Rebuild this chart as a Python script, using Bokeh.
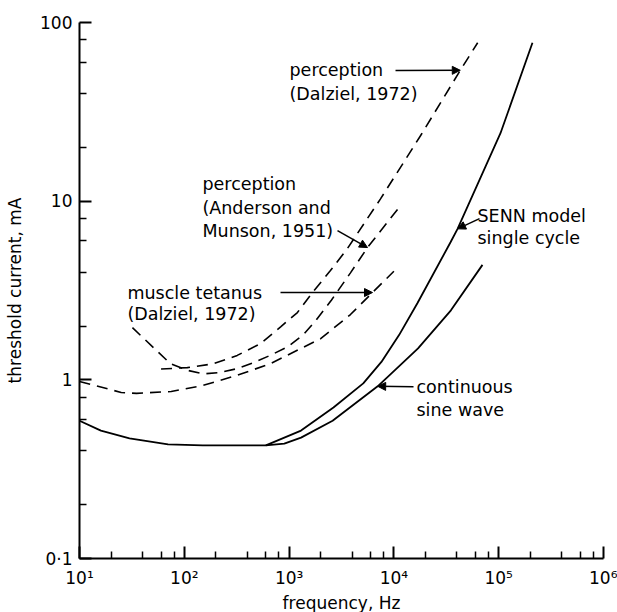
from bokeh.plotting import figure
from bokeh.models import FixedTicker, Arrow, NormalHead, Label
from bokeh.embed import file_html
from bokeh.resources import INLINE

# ---- data (frequency in Hz, current in mA) ----
sine_f = [10, 16, 30, 70, 150, 300, 600, 900, 1300, 2600, 7000, 17000, 35000, 70000]
sine_i = [0.59, 0.52, 0.47, 0.435, 0.43, 0.43, 0.43, 0.44, 0.475, 0.59, 0.92, 1.5, 2.45, 4.4]

senn_f = [600, 1300, 2650, 5100, 7600, 11200, 16800, 34700, 40500, 104000, 210000]
senn_i = [0.43, 0.52, 0.70, 0.955, 1.26, 1.78, 2.69, 5.89, 7.0, 24, 77]

tetanus_f = [10, 25, 35, 75, 150, 320, 660, 2000, 3850, 6250, 10000]
tetanus_i = [0.98, 0.85, 0.84, 0.86, 0.93, 1.06, 1.23, 1.70, 2.32, 3.08, 4.05]

dalziel_f = [60, 107, 190, 320, 530, 830, 1200, 1670, 2480, 3600, 7450, 18000, 43000, 63000]
dalziel_i = [1.15, 1.17, 1.23, 1.37, 1.59, 1.98, 2.38, 3.08, 4.09, 5.43, 10.3, 23.3, 54, 77]

anderson_f = [32, 51, 74, 107, 152, 220, 320, 460, 660, 970, 1370, 1790, 2540, 3850, 5600, 11000]
anderson_i = [1.96, 1.51, 1.23, 1.13, 1.08, 1.10, 1.155, 1.25, 1.37, 1.53, 1.79, 2.14, 2.8, 3.97, 5.5, 9.1]

x_ticks = [10, 100, 1000, 10000, 100000, 1000000]
x_tick_labels = ["10\u00b9", "10\u00b2", "10\u00b3", "10\u2074", "10\u2075", "10\u2076"]
y_ticks = [0.1, 1, 10, 100]
y_tick_labels = ["0\u00b71", "1", "10", "100"]
minor_mantissas = [2, 4, 6, 8]

FONT = "DejaVu Sans"

p = figure(x_axis_type="log", y_axis_type="log",
           x_range=(10, 1e6), y_range=(0.1, 100),
           frame_width=524, frame_height=536,
           min_border_left=79, min_border_right=14,
           min_border_top=22, min_border_bottom=54,
           output_backend="svg", toolbar_location=None,
           background_fill_color="white", border_fill_color="white")
p.outline_line_color = None
p.xgrid.visible = False
p.ygrid.visible = False

p.xaxis.ticker = FixedTicker(ticks=x_ticks,
                             minor_ticks=[m * t for t in x_ticks[:-1] for m in minor_mantissas])
p.yaxis.ticker = FixedTicker(ticks=y_ticks,
                             minor_ticks=[m * t for t in y_ticks[:-1] for m in minor_mantissas])
p.xaxis.major_label_overrides = dict(zip(x_ticks, x_tick_labels))
p.yaxis.major_label_overrides = dict(zip(y_ticks, y_tick_labels))

for ax in (p.xaxis, p.yaxis):
    ax.axis_line_width = 2
    ax.axis_line_color = "black"
    ax.major_tick_line_width = 2
    ax.minor_tick_line_width = 1.5
    ax.major_tick_line_color = "black"
    ax.minor_tick_line_color = "black"
    ax.major_tick_in = 12
    ax.major_tick_out = 0
    ax.minor_tick_in = 7
    ax.minor_tick_out = 0
    ax.major_label_text_font = FONT
    ax.major_label_text_font_size = "17px"
    ax.major_label_text_color = "black"
    ax.axis_label_text_font = FONT
    ax.axis_label_text_font_size = "17px"
    ax.axis_label_text_font_style = "normal"
    ax.axis_label_text_color = "black"

p.xaxis.axis_label = "frequency, Hz"
p.yaxis.axis_label = "threshold current, mA"
p.xaxis.major_label_standoff = 9
p.xaxis.axis_label_standoff = 2
p.yaxis.major_label_standoff = 7
p.yaxis.axis_label_standoff = 12

# solid curves
p.line(sine_f, sine_i, line_color="black", line_width=1.8)
p.line(senn_f, senn_i, line_color="black", line_width=1.8)
# dashed curves
for fx, iy in ((tetanus_f, tetanus_i), (dalziel_f, dalziel_i), (anderson_f, anderson_i)):
    p.line(fx, iy, line_color="black", line_width=1.6, line_dash="11 7")

# annotation texts
labels = [
    (1009, 53.9, "perception"),
    (1009, 40.0, "(Dalziel, 1972)"),
    (149, 12.4, "perception"),
    (149, 9.21, "(Anderson and"),
    (149, 6.84, "Munson, 1951)"),
    (28.7, 3.08, "muscle tetanus"),
    (28.7, 2.35, "(Dalziel, 1972)"),
    (62770, 8.31, "SENN model"),
    (62770, 6.26, "single cycle"),
    (16430, 0.916, "continuous"),
    (16430, 0.681, "sine wave"),
]
for lx, ly, t in labels:
    p.add_layout(Label(x=lx, y=ly, text=t, text_font=FONT, text_font_size="17.5px",
                       text_align="left", text_baseline="middle", text_color="black"))

arrows = [
    (10360, 53.9, 43000, 54),
    (2895, 6.84, 5600, 5.5),
    (828, 3.08, 6250, 3.08),
    (65570, 7.99, 40500, 7.0),
    (15390, 0.916, 7000, 0.92),
]
for xs, ys, xe, ye in arrows:
    p.add_layout(Arrow(end=NormalHead(size=8, fill_color="black", line_color="black", line_width=1),
                       x_start=xs, y_start=ys, x_end=xe, y_end=ye,
                       line_color="black", line_width=1.5))

open("out.html", "w").write(file_html(p, INLINE))
